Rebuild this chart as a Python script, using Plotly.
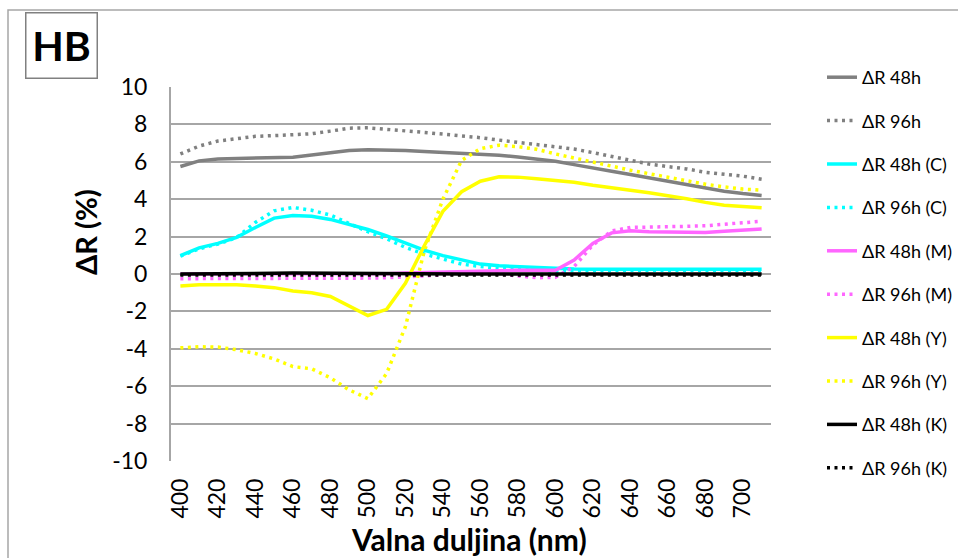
import plotly.graph_objects as go

wavelengths = list(range(400, 720, 10))

dr48 = [5.75, 6.05, 6.15, 6.17, 6.2, 6.2, 6.25, 6.36, 6.5, 6.6, 6.64, 6.64, 6.6, 6.55, 6.5, 6.44,
        6.42, 6.35, 6.26, 6.15, 6.03, 5.85, 5.69, 5.49, 5.32, 5.14, 4.96, 4.76, 4.59, 4.43, 4.3, 4.2]
dr96 = [6.42, 6.84, 7.11, 7.24, 7.36, 7.4, 7.43, 7.5, 7.64, 7.8, 7.82, 7.75, 7.68, 7.57, 7.48, 7.4,
        7.29, 7.16, 7.04, 6.93, 6.81, 6.68, 6.49, 6.28, 6.1, 5.88, 5.74, 5.62, 5.44, 5.33, 5.23, 5.07]
dr48_c = [0.98, 1.4, 1.64, 1.96, 2.49, 2.99, 3.13, 3.09, 2.92, 2.67, 2.38, 2.04, 1.64, 1.28, 0.98, 0.75,
          0.53, 0.44, 0.39, 0.34, 0.3, 0.27, 0.25, 0.24, 0.24, 0.24, 0.25, 0.26, 0.26, 0.25, 0.25, 0.25]
dr96_c = [0.95, 1.35, 1.6, 1.95, 2.76, 3.38, 3.56, 3.41, 3.15, 2.7, 2.26, 1.88, 1.42, 1.07, 0.82, 0.53,
          0.4, 0.3, 0.25, 0.2, 0.15, 0.18, 0.2, 0.2, 0.2, 0.2, 0.2, 0.2, 0.2, 0.2, 0.2, 0.2]
dr48_m = [0.0, 0.0, 0.0, 0.0, 0.0, 0.0, 0.0, 0.0, 0.0, 0.0, 0.0, 0.02, 0.05, 0.08, 0.1, 0.12,
          0.14, 0.17, 0.2, 0.2, 0.2, 0.75, 1.64, 2.2, 2.31, 2.26, 2.24, 2.22, 2.22, 2.28, 2.35, 2.4]
dr96_m = [-0.25, -0.25, -0.25, -0.25, -0.25, -0.24, -0.24, -0.23, -0.23, -0.22, -0.22, -0.2, -0.15, -0.1, -0.05, 0.0,
          0.05, 0.0, -0.1, -0.2, -0.18, 0.4, 1.55, 2.3, 2.49, 2.5, 2.52, 2.55, 2.58, 2.65, 2.75, 2.82]
dr48_y = [-0.64, -0.57, -0.57, -0.57, -0.64, -0.73, -0.91, -1.0, -1.2, -1.7, -2.22, -1.89, -0.5, 1.5, 3.35, 4.4,
          4.96, 5.2, 5.18, 5.09, 4.98, 4.91, 4.75, 4.63, 4.48, 4.34, 4.2, 4.02, 3.83, 3.68, 3.61, 3.54]
dr96_y = [-3.95, -3.89, -3.91, -4.05, -4.25, -4.54, -4.95, -5.07, -5.55, -6.2, -6.66, -5.32, -2.82, 1.2, 4.0, 6.08,
          6.7, 6.89, 6.81, 6.67, 6.42, 6.19, 6.0, 5.77, 5.55, 5.36, 5.18, 4.96, 4.8, 4.66, 4.54, 4.48]
dr48_k = [0.0, 0.0, 0.01, 0.02, 0.03, 0.04, 0.05, 0.04, 0.03, 0.02, 0.01, 0.0, 0.0, 0.0, 0.0, 0.0,
          0.0, 0.0, 0.0, 0.0, 0.0, 0.0, 0.0, 0.0, 0.0, 0.0, 0.0, 0.0, 0.0, 0.0, 0.0, 0.0]
dr96_k = [-0.05, -0.05, -0.05, -0.05, -0.05, -0.05, -0.05, -0.05, -0.05, -0.05, -0.05, -0.05, -0.05, -0.05, -0.05, -0.05,
          -0.05, -0.05, -0.05, -0.05, -0.05, -0.05, -0.05, -0.05, -0.05, -0.05, -0.05, -0.05, -0.05, -0.05, -0.05, -0.05]

series_names = ["ΔR 48h", "ΔR 96h", "ΔR 48h (C)", "ΔR 96h (C)", "ΔR 48h (M)",
                "ΔR 96h (M)", "ΔR 48h (Y)", "ΔR 96h (Y)", "ΔR 48h (K)", "ΔR 96h (K)"]
series_values = [dr48, dr96, dr48_c, dr96_c, dr48_m, dr96_m, dr48_y, dr96_y, dr48_k, dr96_k]
series_colors = ["#808080", "#808080", "#00FFFF", "#00FFFF", "#FF66FF",
                 "#FF66FF", "#FFFF00", "#FFFF00", "#000000", "#000000"]

x_ticks = list(range(400, 710, 20))
y_ticks = list(range(-10, 12, 2))

FONT = "Lato, 'Open Sans', sans-serif"

fig = go.Figure()
for i, (name, vals, col) in enumerate(zip(series_names, series_values, series_colors)):
    dotted = "96h" in name
    fig.add_trace(go.Scatter(
        x=wavelengths, y=vals, name=name, mode="lines",
        line=dict(color=col, width=3.5, dash="3px,4.5px" if dotted else "solid"),
        legendgroup="g%d" % i,
    ))

W, H = 958, 558
L, R, T, B = 171, 187, 87, 97
pw, ph = W - L - R, H - T - B

def px(x):
    return (x - L) / pw

def py(y):
    return 1 - (y - T) / ph

fig.update_layout(
    width=W, height=H,
    margin=dict(l=L, r=R, t=T, b=B, autoexpand=False),
    paper_bgcolor="white", plot_bgcolor="white",
    font=dict(family=FONT, color="#000000"),
    showlegend=True,
    legend=dict(
        x=px(822), y=py(59), xanchor="left", yanchor="top",
        font=dict(size=18, family=FONT), tracegroupgap=17,
        bgcolor="rgba(0,0,0,0)", maxheight=540,
    ),
    xaxis=dict(
        range=[395, 715], tickvals=x_ticks, ticktext=[str(v) for v in x_ticks],
        tickangle=-90, tickfont=dict(size=23, family=FONT),
        showgrid=False, zeroline=False, showline=False, ticks="",
        ticklabelstandoff=12,
    ),
    yaxis=dict(
        range=[-10, 10], tickvals=y_ticks, ticktext=[str(v) for v in y_ticks],
        tickfont=dict(size=23, family=FONT),
        showgrid=True, gridcolor="#A6A6A6", gridwidth=1.5,
        zeroline=False, showline=True, linecolor="#A6A6A6", linewidth=2,
        ticks="", ticklabelstandoff=17,
    ),
)

# axis titles
fig.add_annotation(
    text="<b>Valna duljina (nm)</b>", xref="paper", yref="paper",
    x=px(469), y=py(539), xanchor="center", yanchor="middle",
    showarrow=False, font=dict(size=30, family=FONT, color="#000000"),
)
fig.add_annotation(
    text="<b>ΔR (%)</b>", xref="paper", yref="paper",
    x=px(85), y=py(232), xanchor="center", yanchor="middle", textangle=-90,
    showarrow=False, font=dict(size=29, family=FONT, color="#000000"),
)

fig.add_annotation(
    text="<b>HB</b>", xref="paper", yref="paper",
    x=px(25), y=py(12), xanchor="left", yanchor="top",
    showarrow=False, font=dict(size=41, family=FONT, color="#000000"),
    bordercolor="#808080", borderwidth=1.5, borderpad=0,
    width=70, height=64, align="center", valign="middle",
)

fig.add_shape(
    type="rect", xref="paper", yref="paper",
    x0=px(8), y0=py(575), x1=px(975), y1=py(10),
    line=dict(color="#A6A6A6", width=1.5), fillcolor="rgba(0,0,0,0)", layer="below",
)

fig.write_html("out.html", config={"displayModeBar": False},
               post_script="document.body.style.margin='0';")
